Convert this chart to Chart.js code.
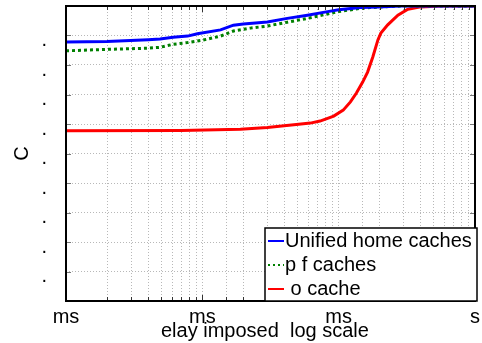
<!DOCTYPE html>
<html>
<head>
<meta charset="utf-8">
<script src="https://cdn.jsdelivr.net/npm/chart.js@4.4.0/dist/chart.umd.min.js"></script>
<style>
  html, body { margin: 0; padding: 0; background: #fff; }
</style>
</head>
<body>
<canvas id="cdfChart" width="482" height="343"></canvas>
<script>
// Delay values (ms) and cumulative fractions
const unifiedX = [1, 2, 4, 4.9, 6.1, 7.8, 9.2, 13.6, 16.9, 20, 30, 42, 59, 83, 100, 145, 194, 285, 1000];
const unifiedY = [0.878, 0.880, 0.886, 0.888, 0.894, 0.898, 0.906, 0.919, 0.935, 0.939, 0.946, 0.958, 0.969, 0.981, 0.987, 0.995, 0.997, 1.0, 1.0];

const perfX = [1, 2, 4, 4.9, 6.1, 7.8, 10, 13.6, 16.9, 22.5, 30, 42, 59, 83, 100, 145, 204, 300, 1000];
const perfY = [0.848, 0.853, 0.857, 0.860, 0.870, 0.876, 0.884, 0.898, 0.915, 0.925, 0.932, 0.945, 0.958, 0.973, 0.981, 0.992, 0.997, 1.0, 1.0];

const noX = [1, 7, 19, 30, 53, 62, 73, 92, 108, 122, 135, 150, 163, 178, 194, 204, 229, 272, 322, 400, 560, 1000];
const noY = [0.577, 0.578, 0.582, 0.588, 0.600, 0.603, 0.610, 0.627, 0.647, 0.675, 0.705, 0.742, 0.776, 0.827, 0.885, 0.908, 0.936, 0.969, 0.989, 0.997, 1.0, 1.0];

const seriesNames = ['Unified home caches', 'p f caches', ' o cache'];
const xTitle = 'elay imposed  log scale  ';
const yTitle = 'C';

Chart.defaults.font.family = '"Liberation Sans", Arial, sans-serif';
Chart.defaults.font.size = 20;
Chart.defaults.color = '#000';

function toPoints(xs, ys) {
    return xs.map((x, i) => ({ x: x, y: ys[i] }));
}

// black frame round the plot plus the little inward ticks
const framePlugin = {
    id: 'frame',
    afterDatasetsDraw(chart) {
        const { ctx, chartArea: a, scales } = chart;
        ctx.save();
        ctx.strokeStyle = '#333';
        ctx.lineWidth = 1;
        scales.x.ticks.forEach(t => {
            const px = Math.round(scales.x.getPixelForValue(t.value)) + 0.5;
            const len = t.major ? 6 : 4;
            ctx.beginPath();
            ctx.moveTo(px, a.bottom);
            ctx.lineTo(px, a.bottom - len);
            ctx.moveTo(px, a.top);
            ctx.lineTo(px, a.top + len);
            ctx.stroke();
        });
        ctx.strokeStyle = '#777';
        scales.y.ticks.forEach(t => {
            const py = Math.round(scales.y.getPixelForValue(t.value)) + 0.5;
            ctx.beginPath();
            ctx.moveTo(a.left, py);
            ctx.lineTo(a.left + 5, py);
            ctx.moveTo(a.right, py);
            ctx.lineTo(a.right - 5, py);
            ctx.stroke();
        });
        ctx.strokeStyle = '#000';
        ctx.lineWidth = 2;
        ctx.strokeRect(a.left, a.top, a.right - a.left, a.bottom - a.top);
        ctx.restore();
    }
};

// boxed legend in the lower right corner
const boxLegend = {
    id: 'boxLegend',
    afterDraw(chart) {
        const { ctx, chartArea: a } = chart;
        const w = 212, h = 73;
        const x0 = a.right + 2 - w, y0 = a.bottom - h;
        ctx.save();
        ctx.fillStyle = '#fff';
        ctx.fillRect(x0, y0, w, h);
        ctx.strokeStyle = '#000';
        ctx.lineWidth = 1.5;
        ctx.strokeRect(x0, y0, w, h);
        ctx.font = '20px "Liberation Sans", Arial, sans-serif';
        ctx.textBaseline = 'middle';
        ctx.fillStyle = '#000';
        chart.data.datasets.forEach((ds, i) => {
            const cy = y0 + 13 + i * 24;
            ctx.beginPath();
            ctx.strokeStyle = ds.borderColor;
            ctx.lineWidth = 2;
            ctx.setLineDash(ds.borderDash && ds.borderDash.length ? [2, 3] : []);
            ctx.moveTo(x0 + 3, cy);
            ctx.lineTo(x0 + 19, cy);
            ctx.stroke();
            ctx.setLineDash([]);
            ctx.fillText(seriesNames[i], x0 + 20, cy);
        });
        ctx.restore();
    }
};

const gridColor = '#b8b8b8';

new Chart(document.getElementById('cdfChart').getContext('2d'), {
    type: 'line',
    data: {
        datasets: [
            {
                label: seriesNames[0],
                data: toPoints(unifiedX, unifiedY),
                borderColor: '#0000ff',
                borderWidth: 3,
                pointRadius: 0,
                tension: 0
            },
            {
                label: seriesNames[1],
                data: toPoints(perfX, perfY),
                borderColor: '#008000',
                borderWidth: 3,
                borderDash: [3, 3],
                pointRadius: 0,
                tension: 0
            },
            {
                label: seriesNames[2],
                data: toPoints(noX, noY),
                borderColor: '#ff0000',
                borderWidth: 3,
                pointRadius: 0,
                tension: 0
            }
        ]
    },
    options: {
        responsive: false,
        animation: false,
        layout: {
            padding: { top: 6, right: 7, left: 0, bottom: 0 }
        },
        plugins: {
            legend: { display: false },
            tooltip: { enabled: false }
        },
        scales: {
            x: {
                type: 'logarithmic',
                min: 1,
                max: 1000,
                grid: { color: gridColor, drawTicks: false },
                border: { display: false, dash: [1, 2] },
                ticks: {
                    autoSkip: false,
                    maxRotation: 0,
                    padding: 4,
                    callback: function(value) {
                        if (value === 1 || value === 10 || value === 100) return 'ms';
                        if (value === 1000) return 's';
                        return '';
                    }
                },
                title: {
                    display: true,
                    text: xTitle,
                    padding: { top: 0, bottom: 0 }
                },
                afterFit: function(scale) {
                    scale.height = 42;
                    scale.paddingLeft = 0;
                    scale.paddingRight = 0;
                }
            },
            y: {
                min: 0,
                max: 1,
                grid: { color: gridColor, drawTicks: false },
                border: { display: false, dash: [1, 2] },
                ticks: {
                    stepSize: 0.1,
                    padding: 19,
                    labelOffset: 5,
                    callback: function(value) {
                        const v = Math.round(value * 10);
                        return (v === 0 || v === 10) ? '' : '.';
                    }
                },
                title: {
                    display: true,
                    text: yTitle,
                    padding: { top: 10, bottom: 0 }
                },
                afterFit: function(scale) {
                    scale.width = 66;
                    scale.paddingTop = 0;
                    scale.paddingBottom = 0;
                }
            }
        }
    },
    plugins: [framePlugin, boxLegend]
});
</script>
</body>
</html>
